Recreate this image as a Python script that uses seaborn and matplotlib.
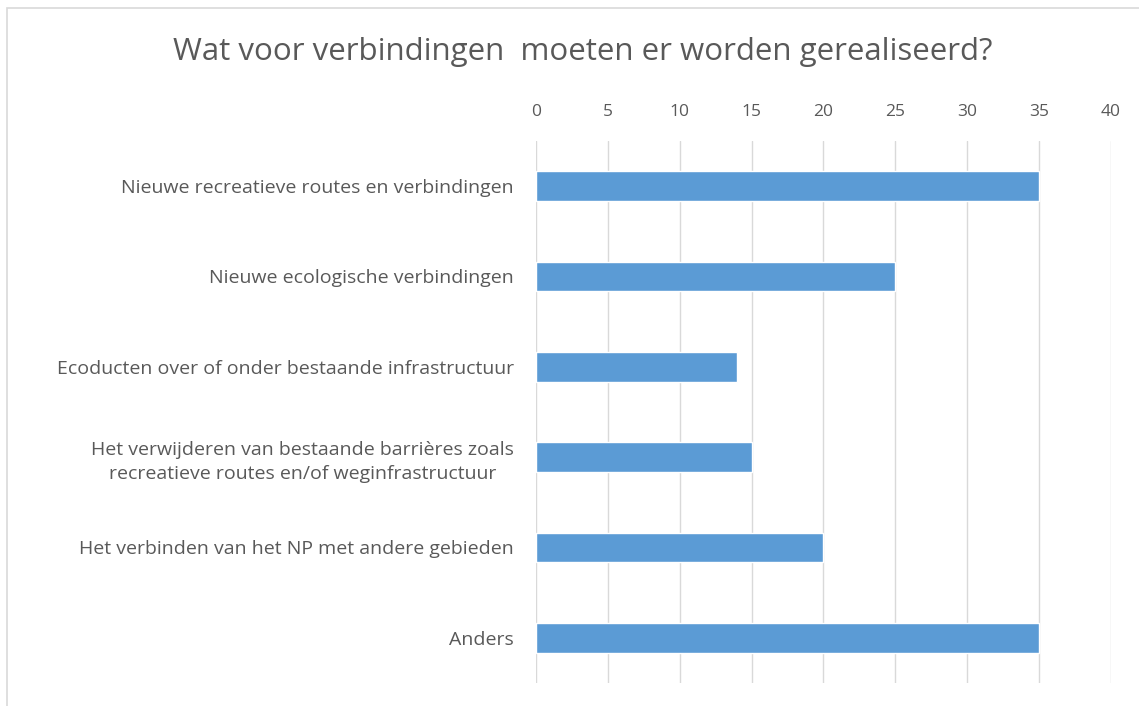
import matplotlib
matplotlib.use('Agg')
import matplotlib.pyplot as plt
import seaborn as sns
import pandas as pd
from matplotlib.patches import Rectangle

# data
categories = [
    "Nieuwe recreatieve routes en verbindingen",
    "Nieuwe ecologische verbindingen",
    "Ecoducten over of onder bestaande infrastructuur",
    "Het verwijderen van bestaande barrières zoals\nrecreatieve routes en/of weginfrastructuur",
    "Het verbinden van het NP met andere gebieden",
    "Anders",
]
counts = [35, 25, 14, 15, 20, 35]
x_ticks = [0, 5, 10, 15, 20, 25, 30, 35, 40]

df = pd.DataFrame({"categorie": categories, "aantal": counts})

sns.set_theme(style="white")
plt.rcParams['font.family'] = ['Open Sans', 'DejaVu Sans']

text_col = '#595959'
fig = plt.figure(figsize=(11.39, 7.06), dpi=100)
ax = fig.add_axes([0.4706, 0.0326, 0.5048, 0.7677])

sns.barplot(data=df, x="aantal", y="categorie", orient="h", color="#5B9BD5",
            saturation=1, width=0.33, ax=ax, zorder=3)

ax.set_xlim(0, 40)
ax.set_xticks(x_ticks)
ax.xaxis.tick_top()
ax.tick_params(axis='x', length=0, pad=15, labelsize=12.5, labelcolor=text_col)
ax.tick_params(axis='y', length=0, pad=16, labelsize=14, labelcolor=text_col)
for lab in ax.get_yticklabels():
    lab.set_multialignment('center')
    lab.set_linespacing(1.4)
ax.grid(axis='x', color='#D9D9D9', linewidth=1, zorder=0)
ax.grid(axis='y', visible=False)
for s in ax.spines.values():
    s.set_visible(False)
ax.set_xlabel('')
ax.set_ylabel('')

fig.text(0.512, 0.926, "Wat voor verbindingen  moeten er worden gerealiseerd?",
         ha='center', va='center', fontsize=22.5, color=text_col)

# light frame around the chart area
fig.patches.append(Rectangle((0.006, -0.02), 1.02, 1.008, transform=fig.transFigure,
                             fill=False, edgecolor='#D9D9D9', linewidth=1.2))

fig.savefig('out.png', dpi=100)
